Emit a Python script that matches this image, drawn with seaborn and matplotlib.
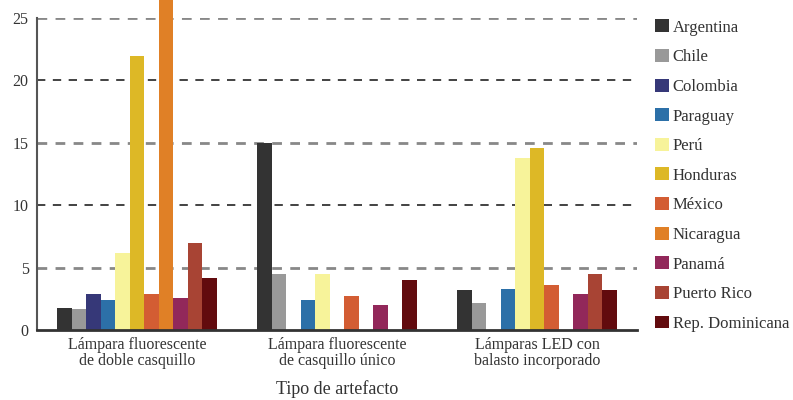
import matplotlib
matplotlib.use("Agg")
import matplotlib.pyplot as plt
import seaborn as sns
import pandas as pd
import numpy as np

# Fixture types (x categories)
tipos = [
    "Lámpara fluorescente\nde doble casquillo",
    "Lámpara fluorescente\nde casquillo único",
    "Lámparas LED con\nbalasto incorporado",
]

paises = [
    "Argentina", "Chile", "Colombia", "Paraguay", "Perú", "Honduras",
    "México", "Nicaragua", "Panamá", "Puerto Rico", "Rep. Dominicana",
]

colores = [
    "#333333", "#999999", "#363878", "#2c70a8", "#f7f39a", "#ddb826",
    "#d35d33", "#e08026", "#92285a", "#a84434", "#620b0e",
]

# Values per country, one entry per fixture type (NaN = no data)
argentina = [1.8, 15.0, 3.2]
chile = [1.7, 4.5, 2.2]
colombia = [2.9, np.nan, np.nan]
paraguay = [2.4, 2.4, 3.3]
peru = [6.2, 4.5, 13.8]
honduras = [21.9, np.nan, 14.6]
mexico = [2.9, 2.7, 3.6]
nicaragua = [28.0, np.nan, np.nan]
panama = [2.6, 2.0, 2.9]
puerto_rico = [7.0, np.nan, 4.5]
rep_dominicana = [4.2, 4.0, 3.2]

series = [argentina, chile, colombia, paraguay, peru, honduras,
          mexico, nicaragua, panama, puerto_rico, rep_dominicana]

rows = []
for pais, vals in zip(paises, series):
    for tipo, v in zip(tipos, vals):
        rows.append({"tipo": tipo, "pais": pais, "valor": v})
df = pd.DataFrame(rows)

sns.set_theme(style="white")
plt.rcParams["font.family"] = ["Liberation Serif", "DejaVu Serif"]

fig = plt.figure(figsize=(7.93, 4.0), dpi=100)
ax = fig.add_axes([37 / 793, 70 / 400, 600 / 793, 312.3 / 400])

sns.barplot(
    data=df, x="tipo", y="valor", hue="pais",
    order=tipos, hue_order=paises, palette=colores,
    saturation=1, width=0.8, errorbar=None, ax=ax, legend=True,
)

for p in ax.patches:
    p.set_clip_on(False)
    p.set_linewidth(0)
    p.set_zorder(3)

ax.set_ylim(0, 25)
ax.set_xlim(-0.5, 2.5)
yticks = [0, 5, 10, 15, 20, 25]
ax.set_yticks(yticks)
ax.set_yticklabels([str(t) for t in yticks], fontsize=11.5, color="#333333")

# Alternating dashed reference lines
for t in yticks[1:]:
    if t % 10 == 5:
        ax.axhline(t, color="#888888", lw=2.0, ls=(0, (3.5, 3.0)), zorder=1)
    else:
        ax.axhline(t, color="#222222", lw=1.2, ls=(0, (5, 4.5)), zorder=1)

ax.tick_params(axis="y", length=0, pad=6)
ax.tick_params(axis="x", length=0, labelsize=11.5, colors="#333333", pad=5)
for lbl in ax.get_xticklabels():
    lbl.set_linespacing(1.0)
ax.set_ylabel("")
ax.set_xlabel("Tipo de artefacto", fontsize=13, color="#333333", labelpad=8)

for s in ["top", "right"]:
    ax.spines[s].set_visible(False)
ax.spines["left"].set_color("#555555")
ax.spines["left"].set_linewidth(1.5)
ax.spines["bottom"].set_color("#333333")
ax.spines["bottom"].set_linewidth(2.0)
ax.spines["bottom"].set_zorder(4)

handles, labels = ax.get_legend_handles_labels()
ax.legend(
    handles, labels, loc="upper left",
    bbox_to_anchor=(655 / 793, 1 - 19.5 / 400), bbox_transform=fig.transFigure,
    frameon=False, fontsize=12, handlelength=0.82, handleheight=0.82,
    handletextpad=0.25, labelspacing=0.8, borderpad=0, borderaxespad=0,
    labelcolor="#333333",
)

fig.savefig("out.png", dpi=100)
